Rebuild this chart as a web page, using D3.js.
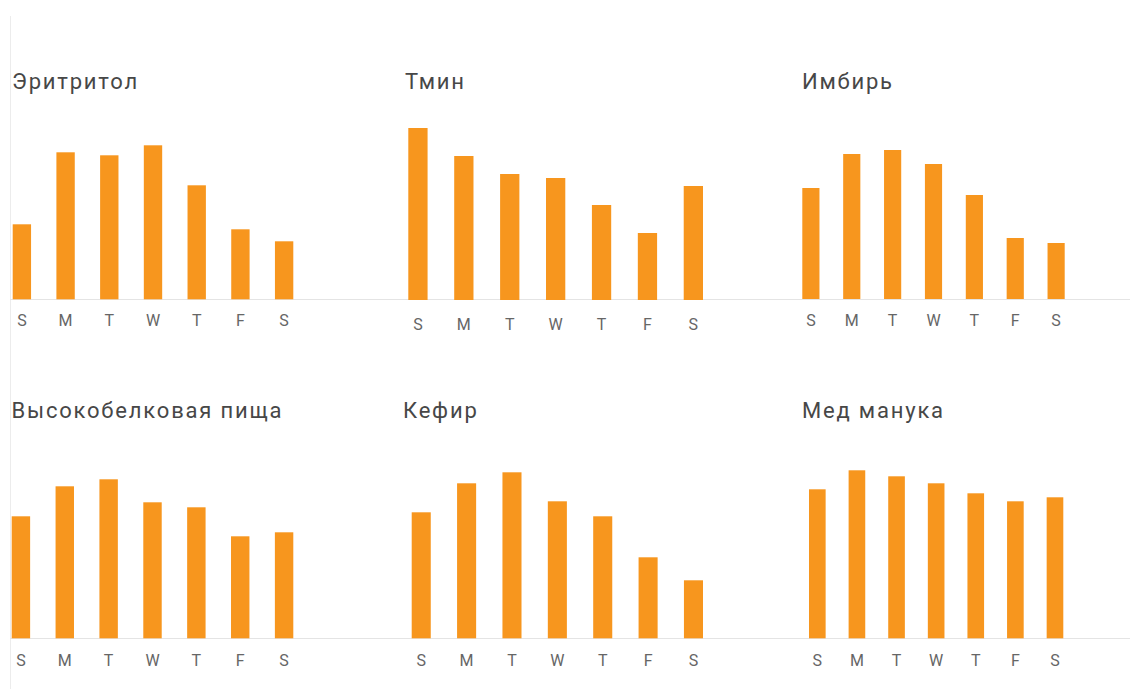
<!DOCTYPE html>
<html>
<head>
<meta charset="utf-8">
<script src="https://cdn.jsdelivr.net/npm/d3@7"></script>
<style>
  body { margin: 0; background: #fff; }
  text { font-family: Roboto, "Noto Sans", sans-serif; }
</style>
</head>
<body>
<div id="chart"></div>
<script>
// day labels and panel titles
var days = ["S", "M", "T", "W", "T", "F", "S"];
var titles = ["Эритритол", "Тмин", "Имбирь", "Высокобелковая пища", "Кефир", "Мед манука"];

// weekly values
var erythritol = [75, 147, 144, 154, 114, 70, 58];
var cumin      = [172, 144, 126, 122, 95, 67, 114];
var ginger     = [111, 145, 149, 135, 104, 61, 56];
var protein    = [122, 152, 159, 136, 131, 102, 106];
var kefir      = [126, 155, 166, 137, 122, 81, 58];
var manuka     = [149, 168, 162, 155, 145, 137, 141];

var series = [erythritol, cumin, ginger, protein, kefir, manuka];

// where each small chart sits on the page
var layout = [
  { x0: 12.7, x1: 293.3, base: 299.3, tx: 12, ty: 89, lab: 326 },
  { x0: 408.3, x1: 703, base: 300, tx: 405, ty: 89, lab: 330 },
  { x0: 802.3, x1: 1064.7, base: 299, tx: 802, ty: 89, lab: 326 },
  { x0: 11.7, x1: 293.3, base: 638.3, tx: 11.5, ty: 418, lab: 666 },
  { x0: 411.7, x1: 703, base: 638.3, tx: 403, ty: 418, lab: 666 },
  { x0: 809, x1: 1063.3, base: 638.3, tx: 802, ty: 418, lab: 666 }
];

var W = 1130, H = 689;
var orange = "#F7961E";

var svg = d3.select("#chart").append("svg")
    .attr("width", W)
    .attr("height", H);

// faint left edge line
svg.append("line")
    .attr("x1", 10.5).attr("x2", 10.5)
    .attr("y1", 16).attr("y2", H)
    .style("stroke", "#ececec")
    .style("stroke-width", 1);

// baselines run across the whole row
[299.5, 638.5].forEach(function(y){
  svg.append("line")
    .attr("x1", 10).attr("x2", W)
    .attr("y1", y).attr("y2", y)
    .style("stroke", "#e4e4e4")
    .style("stroke-width", 1);
});

series.forEach(function(values, i){
  var L = layout[i];

  var x = d3.scaleBand()
      .domain(d3.range(days.length))
      .range([L.x0, L.x1])
      .paddingInner(0.58)
      .paddingOuter(0);

  var y = d3.scaleLinear()
      .domain([0, 180])
      .range([L.base, L.base - 180]);

  var g = svg.append("g");

  g.append("text")
      .attr("x", L.tx)
      .attr("y", L.ty)
      .style("font-size", "22px")
      .style("letter-spacing", "1.8px")
      .style("fill", "#474747")
      .text(titles[i]);

  g.selectAll("rect")
    .data(values)
    .enter()
    .append("rect")
      .attr("x", function(d, j){ return x(j); })
      .attr("width", x.bandwidth())
      .attr("y", function(d){ return y(d); })
      .attr("height", function(d){ return y(0) - y(d); })
      .style("fill", orange);

  g.selectAll(".day")
    .data(days)
    .enter()
    .append("text")
      .attr("class", "day")
      .attr("x", function(d, j){ return x(j) + x.bandwidth() / 2; })
      .attr("y", L.lab)
      .attr("text-anchor", "middle")
      .style("font-size", "16px")
      .style("fill", "#666")
      .text(function(d){ return d; });
});
</script>
</body>
</html>
